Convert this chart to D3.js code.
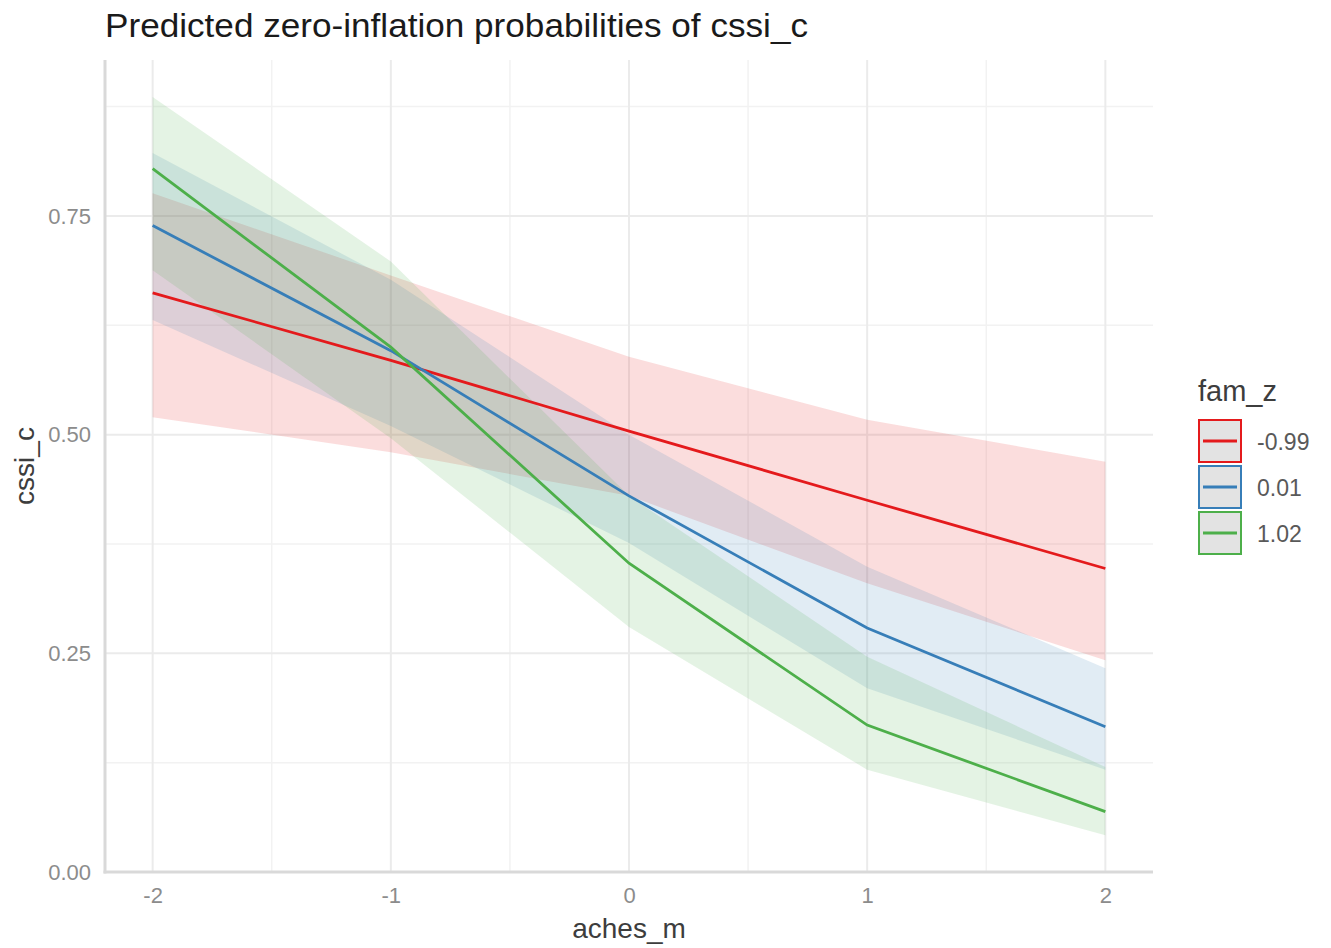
<!DOCTYPE html>
<html>
<head>
<meta charset="utf-8">
<script src="https://cdn.jsdelivr.net/npm/d3@7"></script>
<style>
  body { margin: 0; background: #fff; }
  text { font-family: "Liberation Sans", Arial, Helvetica, sans-serif; }
</style>
</head>
<body>
<div class="chart"></div>
<script>
// data
const xValues = [-2, -1, 0, 1, 2];
const groups = ["-0.99", "0.01", "1.02"];
const colors = ["#e41a1c", "#377eb8", "#4daf4a"];

const redFit = [0.662, 0.585, 0.504, 0.425, 0.347];
const redLow = [0.520, 0.480, 0.430, 0.330, 0.242];
const redHigh = [0.776, 0.682, 0.589, 0.517, 0.469];

const blueFit = [0.739, 0.596, 0.430, 0.279, 0.166];
const blueLow = [0.631, 0.510, 0.376, 0.210, 0.117];
const blueHigh = [0.822, 0.677, 0.500, 0.349, 0.233];

const greenFit = [0.804, 0.600, 0.353, 0.168, 0.069];
const greenLow = [0.688, 0.496, 0.280, 0.117, 0.042];
const greenHigh = [0.886, 0.698, 0.430, 0.246, 0.120];

const yTicks = [0, 0.25, 0.5, 0.75];
const yTickLabels = ["0.00", "0.25", "0.50", "0.75"];
const xTicks = [-2, -1, 0, 1, 2];
const xTickLabels = ["-2", "-1", "0", "1", "2"];

const series = [
    { fit: redFit, low: redLow, high: redHigh },
    { fit: blueFit, low: blueLow, high: blueHigh },
    { fit: greenFit, low: greenLow, high: greenHigh }
];

// sizes
const svgWidth = 1331;
const svgHeight = 948;
const panel = { left: 105, right: 1153, top: 60, bottom: 872 };

let svg = d3.select(".chart")
    .append("svg")
    .attr("width", svgWidth)
    .attr("height", svgHeight);

// scales
const xScale = d3.scaleLinear()
    .domain([-2.2, 2.2])
    .range([panel.left, panel.right]);

const yScale = d3.scaleLinear()
    .domain([0, 0.9283])
    .range([panel.bottom, panel.top]);

// minor grid
const xMinor = [-1.5, -0.5, 0.5, 1.5];
const yMinor = [0.125, 0.375, 0.625, 0.875];

svg.append("g").selectAll("line")
    .data(xMinor)
    .enter()
    .append("line")
    .attr("x1", d => xScale(d)).attr("x2", d => xScale(d))
    .attr("y1", panel.top).attr("y2", panel.bottom)
    .attr("stroke", "#f2f2f2")
    .attr("stroke-width", 1.5);

svg.append("g").selectAll("line")
    .data(yMinor)
    .enter()
    .append("line")
    .attr("x1", panel.left).attr("x2", panel.right)
    .attr("y1", d => yScale(d)).attr("y2", d => yScale(d))
    .attr("stroke", "#f2f2f2")
    .attr("stroke-width", 1.5);

// major grid
svg.append("g").selectAll("line")
    .data(xTicks)
    .enter()
    .append("line")
    .attr("x1", d => xScale(d)).attr("x2", d => xScale(d))
    .attr("y1", panel.top).attr("y2", panel.bottom)
    .attr("stroke", "#ebebeb")
    .attr("stroke-width", 2);

svg.append("g").selectAll("line")
    .data(yTicks)
    .enter()
    .append("line")
    .attr("x1", panel.left).attr("x2", panel.right)
    .attr("y1", d => yScale(d)).attr("y2", d => yScale(d))
    .attr("stroke", "#ebebeb")
    .attr("stroke-width", 2);

// ribbons
const area = d3.area()
    .x((d, i) => xScale(xValues[i]))
    .y0(d => yScale(d[0]))
    .y1(d => yScale(d[1]));

series.forEach(function (s, k) {
    let pts = s.low.map((v, i) => [v, s.high[i]]);
    svg.append("path")
        .datum(pts)
        .attr("d", area)
        .attr("fill", colors[k])
        .attr("fill-opacity", 0.15);
});

// lines
const line = d3.line()
    .x((d, i) => xScale(xValues[i]))
    .y(d => yScale(d));

series.forEach(function (s, k) {
    svg.append("path")
        .datum(s.fit)
        .attr("d", line)
        .attr("fill", "none")
        .attr("stroke", colors[k])
        .attr("stroke-width", 2.8);
});

// axis lines
svg.append("line")
    .attr("x1", panel.left).attr("x2", panel.left)
    .attr("y1", panel.top).attr("y2", panel.bottom + 1.5)
    .attr("stroke", "#d9d9d9")
    .attr("stroke-width", 3);

svg.append("line")
    .attr("x1", panel.left - 1.5).attr("x2", panel.right)
    .attr("y1", panel.bottom).attr("y2", panel.bottom)
    .attr("stroke", "#d9d9d9")
    .attr("stroke-width", 3);

// axes (labels only)
let xAxis = d3.axisBottom(xScale).tickValues(xTicks).tickSize(0).tickPadding(15)
    .tickFormat((d, i) => xTickLabels[i]);
let yAxis = d3.axisLeft(yScale).tickValues(yTicks).tickSize(0).tickPadding(14)
    .tickFormat((d, i) => yTickLabels[i]);

let gx = svg.append("g")
    .attr("transform", `translate(0, ${panel.bottom})`)
    .call(xAxis);
let gy = svg.append("g")
    .attr("transform", `translate(${panel.left}, 0)`)
    .call(yAxis);

[gx, gy].forEach(function (g) {
    g.select(".domain").remove();
    g.selectAll("text")
        .attr("font-family", "Liberation Sans, Arial, sans-serif")
        .attr("font-size", "22px")
        .attr("fill", "#8c8c8c");
});

// axis titles
svg.append("text")
    .attr("x", xScale(0))
    .attr("y", 938)
    .attr("text-anchor", "middle")
    .attr("font-size", "28px")
    .attr("fill", "#3d3d3d")
    .text("aches_m");

svg.append("text")
    .attr("transform", `translate(34, ${(panel.top + panel.bottom) / 2}) rotate(-90)`)
    .attr("text-anchor", "middle")
    .attr("font-size", "28px")
    .attr("fill", "#3d3d3d")
    .text("cssi_c");

// title
svg.append("text")
    .attr("x", 105)
    .attr("y", 37)
    .attr("font-size", "34px")
    .attr("fill", "#1a1a1a")
    .attr("textLength", 703)
    .attr("lengthAdjust", "spacingAndGlyphs")
    .text("Predicted zero-inflation probabilities of cssi_c");

// legend
let legend = svg.append("g")
    .attr("transform", "translate(1198, 0)");

legend.append("text")
    .attr("x", 0)
    .attr("y", 401)
    .attr("font-size", "29px")
    .attr("fill", "#3d3d3d")
    .text("fam_z");

let keys = legend.selectAll(".key")
    .data(groups)
    .enter()
    .append("g")
    .attr("class", "key")
    .attr("transform", (d, i) => `translate(0, ${420 + i * 46})`);

keys.append("rect")
    .attr("x", 1).attr("y", 0)
    .attr("width", 42).attr("height", 42)
    .attr("fill", "#e3e3e3")
    .attr("stroke", (d, i) => colors[i])
    .attr("stroke-width", 2);

keys.append("line")
    .attr("x1", 5).attr("x2", 39)
    .attr("y1", 21).attr("y2", 21)
    .attr("stroke", (d, i) => colors[i])
    .attr("stroke-width", 2.8);

keys.append("text")
    .attr("x", 59)
    .attr("y", 30)
    .attr("font-size", "23px")
    .attr("fill", "#595959")
    .text(d => d);
</script>
</body>
</html>
